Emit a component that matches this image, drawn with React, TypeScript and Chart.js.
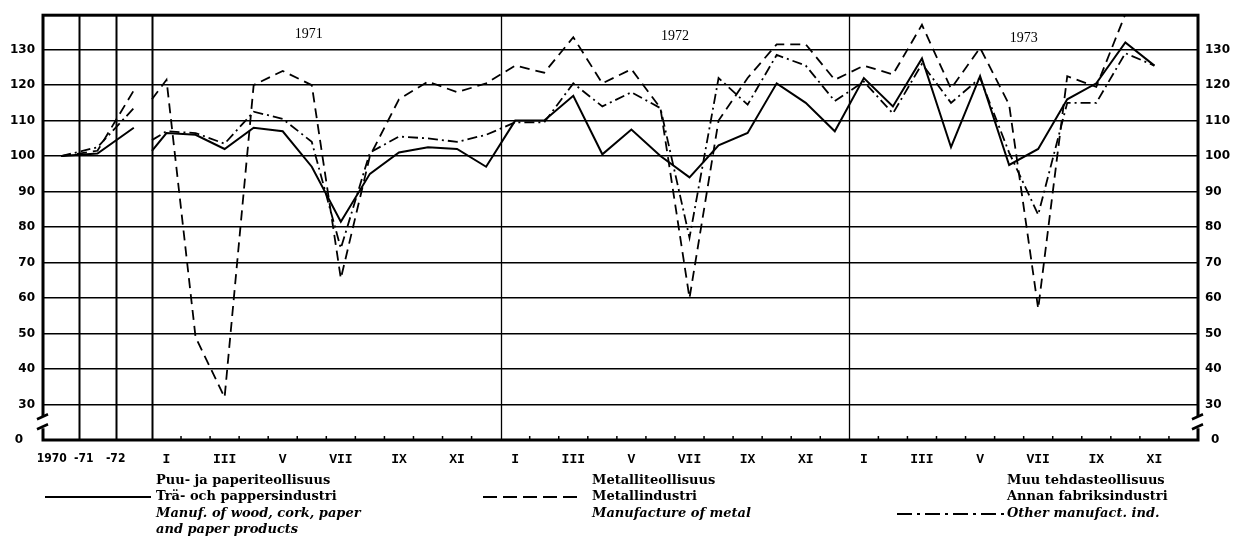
import React, { useEffect, useRef } from 'react';
import { Chart, registerables } from 'chart.js';

Chart.register(...registerables);

// ---------- data ----------
const annualLabels = ['1970', '-71', '-72'];
const monthLabels = ['I', '', 'III', '', 'V', '', 'VII', '', 'IX', '', 'XI', ''];
const years = ['1971', '1972', '1973'];
const yTickValues = [20, 30, 40, 50, 60, 70, 80, 90, 100, 110, 120, 130];
const yTickLabels = ['0', '30', '40', '50', '60', '70', '80', '90', '100', '110', '120', '130'];

// Annual index values 1970, 1971, 1972
const woodAnnual = [100, 100.7, 108];
const metalAnnual = [100, 101.5, 118.5];
const otherAnnual = [100, 102.5, 113.5];

// value where the monthly section begins
const woodStart = 101.5;
const metalStart = 116;
const otherStart = 104.5;

// Monthly values I/1971 ... XI/1973
const woodMonthly = [
  106.5, 106, 102, 108, 107, 97, 81.5, 95, 101, 102.5, 102, 97,
  110, 110, 117, 100.5, 107.5, 100, 94, 103, 106.5, 120.5, 115, 107,
  122, 114, 127.5, 102.5, 122.5, 97.5, 102, 116, 120.5, 132, 125.5,
];
const metalMonthly = [
  121.5, 49, 32, 120, 124, 120, 65.5, 100, 116, 121, 118, 120.5,
  125.5, 123.5, 133.5, 120.5, 124.5, 113.5, 60, 110, 122, 131.5, 131.5, 121.5,
  125.5, 123, 137, 119, 130.5, 114.5, 57, 122.5, 119.5, 140, 140,
];
const otherMonthly = [
  107, 106.5, 103.5, 112.5, 110.5, 104, 74, 101, 105.5, 105, 104, 106,
  109.5, 109.5, 120.5, 114, 118, 113.5, 77, 122, 114.5, 128.5, 125.5, 115.5,
  121, 112, 126, 115, 122, 101, 83.5, 115, 115, 129, 125.5,
];

const legendFi = ['Puu- ja paperiteollisuus', 'Metalliteollisuus', 'Muu tehdasteollisuus'];
const legendSv = ['Trä- och pappersindustri', 'Metallindustri', 'Annan fabriksindustri'];
const legendEn = [
  ['Manuf. of wood, cork, paper', 'and paper products'],
  ['Manufacture of metal'],
  ['Other manufact. ind.'],
];

// ---------- x layout (month units; annual cells are 1.25 months wide) ----------
const ANNUAL_W = 1.25;
const X_MIN = -ANNUAL_W * annualLabels.length;
const X_MAX = 12 * years.length;
const annualX = (i: number) => X_MIN + ANNUAL_W * (i + 0.5);
const annualLabelX = (i: number) => X_MIN + 0.3 + 1.1 * i;
const monthX = (j: number) => j + 0.5;

const xTickValues: number[] = [];
const xTickText: string[] = [];
annualLabels.forEach((l, i) => { xTickValues.push(annualLabelX(i)); xTickText.push(l); });
years.forEach((_, k) => monthLabels.forEach((l, m) => {
  if (l) { xTickValues.push(monthX(k * 12 + m)); xTickText.push(l); }
}));

const annualPts = (arr: number[]) => arr.map((v, i) => ({ x: annualX(i), y: v }));
const monthPts = (start: number, arr: number[]) =>
  [{ x: 0, y: start }, ...arr.map((v, j) => ({ x: monthX(j), y: v }))];

const SOLID: number[] = [];
const DASH = [10, 6];
const DASHDOT = [10, 4, 2, 4];

const series = [
  { annual: woodAnnual, start: woodStart, monthly: woodMonthly, dash: SOLID, width: 2 },
  { annual: metalAnnual, start: metalStart, monthly: metalMonthly, dash: DASH, width: 1.8 },
  { annual: otherAnnual, start: otherStart, monthly: otherMonthly, dash: DASHDOT, width: 1.8 },
];

const framePlugin = {
  id: 'framePlugin',
  afterDraw(chart: any) {
    const { ctx, chartArea: a, scales } = chart;
    const x = scales.x;
    const y = scales.y;
    ctx.save();
    ctx.strokeStyle = '#000';
    ctx.fillStyle = '#000';
    // vertical separators
    const verts: [number, number][] = [
      [X_MIN + ANNUAL_W, 2], [X_MIN + 2 * ANNUAL_W, 2], [0, 2], [12, 1.3], [24, 1.3],
    ];
    verts.forEach(([v, w]) => {
      const px = Math.round(x.getPixelForValue(v)) + 0.5;
      ctx.lineWidth = w;
      ctx.beginPath();
      ctx.moveTo(px, a.top);
      ctx.lineTo(px, a.bottom);
      ctx.stroke();
    });
    // month ticks on the bottom axis
    ctx.lineWidth = 1.5;
    for (let j = 1; j < X_MAX; j++) {
      if (j % 12 === 0) continue;
      const px = x.getPixelForValue(j);
      ctx.beginPath();
      ctx.moveTo(px, a.bottom);
      ctx.lineTo(px, a.bottom - 4);
      ctx.stroke();
    }
    // frame
    ctx.lineWidth = 3;
    ctx.strokeRect(a.left, a.top, a.right - a.left, a.bottom - a.top);
    // axis breaks
    const yb = y.getPixelForValue(25);
    [a.left, a.right].forEach((ax) => {
      ctx.fillStyle = '#fff';
      ctx.fillRect(ax - 3, yb - 6, 6, 12);
      ctx.strokeStyle = '#000';
      ctx.lineWidth = 2.5;
      ctx.beginPath();
      ctx.moveTo(ax - 6, yb - 3);
      ctx.lineTo(ax + 5, yb - 8);
      ctx.moveTo(ax - 6, yb + 7);
      ctx.lineTo(ax + 5, yb + 2);
      ctx.stroke();
    });
    // year labels
    ctx.fillStyle = '#000';
    ctx.font = '14px "Liberation Serif"';
    ctx.textAlign = 'center';
    ctx.textBaseline = 'middle';
    years.forEach((yr, k) => {
      const off = k === 0 ? -0.6 : 0;
      ctx.fillText(yr, x.getPixelForValue(k * 12 + 6 + off), a.top + 19 + k * 2);
    });
    ctx.restore();
  },
};

export default function App() {
  const ref = useRef<HTMLCanvasElement>(null);

  useEffect(() => {
    document.body.style.margin = '0';
    const datasets: any[] = [];
    series.forEach((s) => {
      [annualPts(s.annual), monthPts(s.start, s.monthly)].forEach((data) => {
        datasets.push({
          data,
          borderColor: '#000',
          borderWidth: s.width,
          borderDash: s.dash,
          pointRadius: 0,
          tension: 0,
          fill: false,
        });
      });
    });
    const tickFont = { family: '"DejaVu Sans"', size: 12, weight: 'bold' as const };
    const chart = new Chart(ref.current!, {
      type: 'line',
      data: { datasets },
      plugins: [framePlugin],
      options: {
        animation: false,
        responsive: false,
        devicePixelRatio: 1,
        layout: { padding: { top: 10, left: 0, right: 0, bottom: 0 } },
        plugins: { legend: { display: false }, tooltip: { enabled: false } },
        scales: {
          x: {
            type: 'linear',
            min: X_MIN,
            max: X_MAX,
            grid: { display: false },
            border: { display: false },
            afterBuildTicks: (scale: any) => { scale.ticks = xTickValues.map((v) => ({ value: v })); },
            afterFit: (scale: any) => { scale.height = 103; },
            ticks: {
              autoSkip: false,
              maxRotation: 0,
              padding: 4,
              color: '#000',
              font: (c: any) =>
                c.index < annualLabels.length
                  ? { family: '"DejaVu Sans Condensed", "DejaVu Sans"', size: 12, weight: 'bold' }
                  : { family: '"Liberation Mono"', size: 13, weight: 'bold' },
              callback: (_v: any, i: number) => xTickText[i],
            },
          },
          y: {
            type: 'linear',
            position: 'left',
            min: 20,
            max: 139.7,
            border: { display: false },
            grid: {
              color: '#000',
              lineWidth: (c: any) => (c.tick && c.tick.value === 20 ? 0 : 1.5),
              drawTicks: false,
            },
            afterBuildTicks: (scale: any) => { scale.ticks = yTickValues.map((v) => ({ value: v })); },
            afterFit: (scale: any) => { scale.width = 43; },
            ticks: {
              padding: 8,
              color: '#000',
              font: tickFont,
              callback: (_v: any, i: number) => (i === 0 ? yTickLabels[i] + '\u2002\u2002' : yTickLabels[i]),
            },
          },
          y2: {
            type: 'linear',
            position: 'right',
            min: 20,
            max: 139.7,
            border: { display: false },
            grid: { display: false, drawTicks: false },
            afterBuildTicks: (scale: any) => { scale.ticks = yTickValues.map((v) => ({ value: v })); },
            afterFit: (scale: any) => { scale.width = 47; },
            ticks: {
              padding: 7,
              color: '#000',
              font: tickFont,
              callback: (_v: any, i: number) => (i === 0 ? '\u2002' + yTickLabels[i] : yTickLabels[i]),
            },
          },
        },
      },
    });
    return () => chart.destroy();
  }, []);

  const textCols = [156, 592, 1007];
  const lineStyle: React.CSSProperties = {
    fontFamily: '"DejaVu Serif", serif',
    fontWeight: 'bold',
    fontSize: 13,
    lineHeight: '16.3px',
    whiteSpace: 'nowrap',
    color: '#000',
  };

  return (
    <div style={{ position: 'relative', width: 1245, height: 543, background: '#fff' }}>
      <canvas ref={ref} width={1245} height={543} style={{ position: 'absolute', left: 0, top: 0 }} />
      <svg width={1245} height={543} style={{ position: 'absolute', left: 0, top: 0, pointerEvents: 'none' }}>
        <line x1={45} y1={497} x2={151} y2={497} stroke="#000" strokeWidth={2} />
        <line x1={483} y1={497} x2={582} y2={497} stroke="#000" strokeWidth={2} strokeDasharray="14 6" />
        <line x1={897} y1={514} x2={1004} y2={514} stroke="#000" strokeWidth={2} strokeDasharray="15 5 3 5" />
      </svg>
      {textCols.map((left, k) => (
        <div key={k} style={{ position: 'absolute', left, top: 472 }}>
          <div style={lineStyle}>{legendFi[k]}</div>
          <div style={lineStyle}>{legendSv[k]}</div>
          {legendEn[k].map((t, i) => (
            <div key={i} style={{ ...lineStyle, fontStyle: 'italic' }}>{t}</div>
          ))}
        </div>
      ))}
    </div>
  );
}
